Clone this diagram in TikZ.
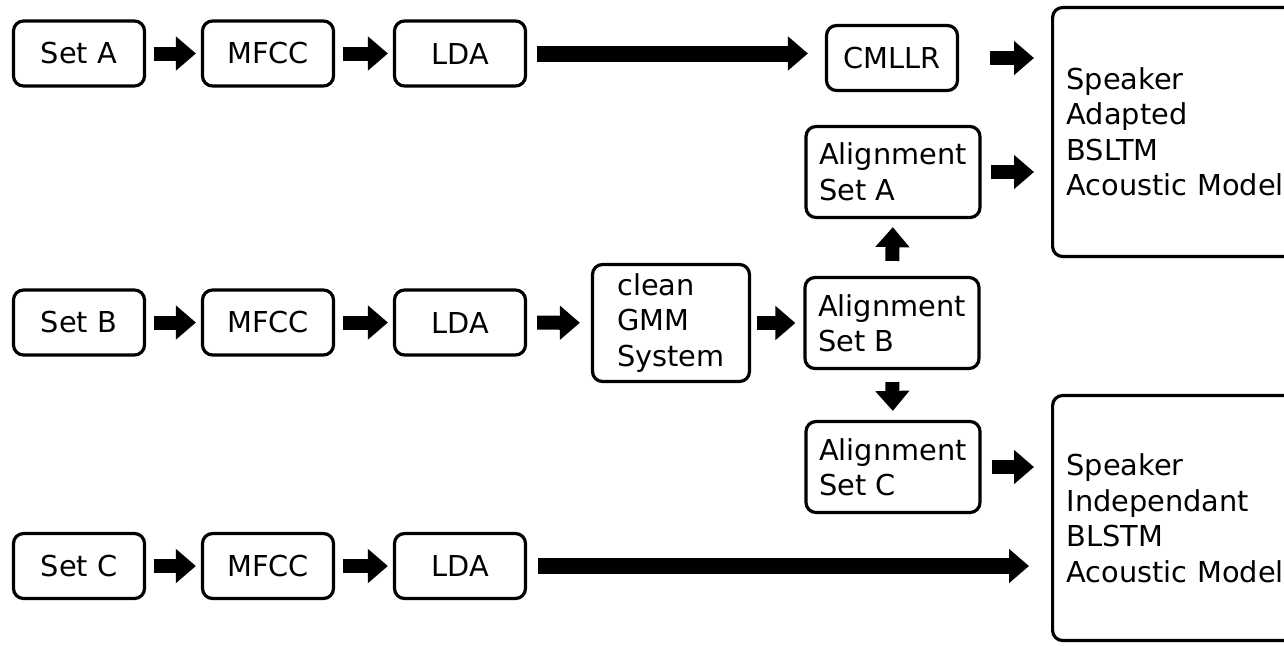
\documentclass[tikz,border=0pt]{standalone}
\usepackage{fontspec}
\setmainfont{DejaVu Sans}
\usepackage{tikz}
\usetikzlibrary{arrows.meta}

\begin{document}
\begin{tikzpicture}[x=0.5pt,y=-0.5pt,
  font=\fontsize{14.4pt}{17.75pt}\selectfont,
  box/.style={draw, line width=1.6pt, rounded corners=5pt, inner sep=0pt,
    minimum width=65.5pt, minimum height=32.5pt},
  alnbox/.style={box, align=left, minimum width=87pt, minimum height=45.5pt},
  gmmbox/.style={box, align=left, minimum width=78.5pt, minimum height=58.5pt},
  bigbox/.style={box, align=left, anchor=west, text width=120pt, inner xsep=7pt},
  blockarrow/.style={line width=7pt, -{Triangle[length=10pt,width=16.5pt]}},
  longarrow/.style={line width=8pt, -{Triangle[length=10pt,width=16.5pt]}}]
\useasboundingbox (0,0) rectangle (1284,645);

\node[box] (seta) at (79,53.5) {Set A};
\node[box] (mfcca) at (268,53.5) {MFCC};
\node[box] (ldaa) at (460,53.5) {LDA};
\node[box] (cmllr) at (892,58) {CMLLR};

\node[box] (setb) at (79,322.5) {Set B};
\node[box] (mfccb) at (268,322.5) {MFCC};
\node[box] (ldab) at (460,322.5) {LDA};
\node[gmmbox] (gmm) at (671,323) {clean\\GMM\\System};

\node[box] (setc) at (79,566) {Set C};
\node[box] (mfccc) at (268,566) {MFCC};
\node[box] (ldac) at (460,566) {LDA};

\node[alnbox] (alna) at (893,172) {Alignment\\Set A};
\node[alnbox] (alnb) at (892,323) {Alignment\\Set B};
\node[alnbox] (alnc) at (893,467) {Alignment\\Set C};

\node[bigbox, minimum height=124.5pt] (spka) at (1051,132) {Speaker\\Adapted\\BSLTM\\Acoustic Model};
\node[bigbox, minimum height=122.5pt] (spkb) at (1051,518) {Speaker\\Independant\\BLSTM\\Acoustic Model};

\draw[blockarrow, shorten <=4pt, shorten >=2.5pt] (seta) -- (mfcca);
\draw[blockarrow, shorten <=4pt, shorten >=2.5pt] (mfcca) -- (ldaa);
\draw[longarrow, shorten <=5pt, shorten >=8.5pt] (ldaa.east) -- (ldaa.east -| cmllr.west);
\draw[blockarrow, shorten <=15.5pt, shorten >=8.5pt] (cmllr.east) -- (cmllr.east -| spka.west);

\draw[blockarrow, shorten <=4pt, shorten >=2.5pt] (setb) -- (mfccb);
\draw[blockarrow, shorten <=4pt, shorten >=2.5pt] (mfccb) -- (ldab);
\draw[blockarrow, shorten <=5pt, shorten >=5.5pt] (ldab) -- (gmm);
\draw[blockarrow, shorten <=3pt, shorten >=4pt] (gmm.east) -- (gmm.east -| alnb.west);

\draw[blockarrow, shorten <=7.5pt, shorten >=4pt] (alnb.north) -- (alna.south);
\draw[blockarrow, shorten <=6pt, shorten >=4.5pt] (alnb.south) -- (alnc.north);
\draw[blockarrow, shorten <=4.5pt, shorten >=8.5pt] (alna.east) -- (alna.east -| spka.west);
\draw[blockarrow, shorten <=5pt, shorten >=8.5pt] (alnc.east) -- (alnc.east -| spkb.west);

\draw[blockarrow, shorten <=4pt, shorten >=2.5pt] (setc) -- (mfccc);
\draw[blockarrow, shorten <=4pt, shorten >=2.5pt] (mfccc) -- (ldac);
\draw[longarrow, shorten <=5.5pt, shorten >=11pt] (ldac.east) -- (ldac.east -| spkb.west);
\end{tikzpicture}
\end{document}
